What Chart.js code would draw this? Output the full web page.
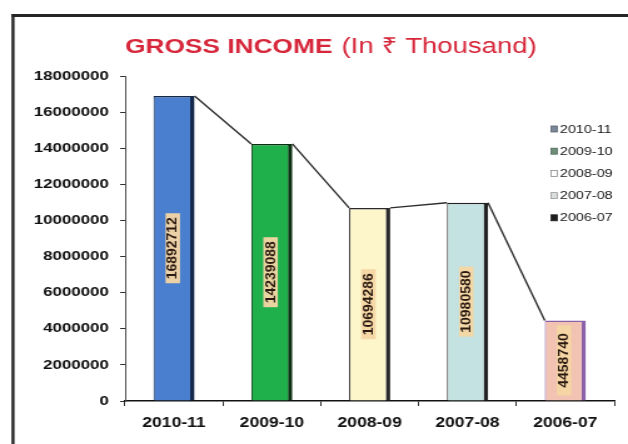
<!DOCTYPE html>
<html>
<head>
<meta charset="utf-8">
<script src="https://cdn.jsdelivr.net/npm/chart.js@4.4.1/dist/chart.umd.min.js"></script>
<style>
  html, body { margin: 0; padding: 0; background: #fff; overflow: hidden; }
  #wrap { position: absolute; left: 0; top: 0; width: 628px; height: 444px; overflow: hidden; background: #fff; }
  /* the chart is laid out on a narrower canvas and widened, giving the broad lettering */
  #c { position: absolute; left: 0; top: 0; transform-origin: 0 0; transform: scaleX(1.251); }
</style>
</head>
<body>
<div id="wrap"><canvas id="c" width="502" height="444"></canvas></div>
<script>
// Gross income by financial year (in ₹ thousand)
const categories = ['2010-11', '2009-10', '2008-09', '2007-08', '2006-07'];
const grossIncome = [16892712, 14239088, 10694286, 10980580, 4458740];
const yTickValues = [0, 2000000, 4000000, 6000000, 8000000, 10000000, 12000000, 14000000, 16000000, 18000000];

const barFill = ['#4a7fcf', '#1fb04c', '#fdf6cb', '#c3e2e1', '#f2c3b3'];
const barEdge = ['#14284a', '#08300f', '#2a2a2a', '#222222', '#8b62a9'];
const legendSwatch = ['#7c8897', '#6e8e79', '#ffffff', '#d9dddc', '#1e1e1e'];
const legendSwatchEdge = ['#5a6470', '#4e6a58', '#8a8a8a', '#9a9a9a', '#1e1e1e'];

const titleBold = 'GROSS INCOME';
const titleRest = '(In ₹ Thousand)';
const FONT = "'Liberation Sans', Arial, Helvetica, sans-serif";

// outer frame (top and left rules)
const framePlugin = {
  id: 'frame',
  beforeDraw(chart) {
    const ctx = chart.ctx;
    ctx.save();
    ctx.fillStyle = '#fff';
    ctx.fillRect(0, 0, chart.width, chart.height);
    ctx.strokeStyle = '#262626';
    ctx.lineWidth = 3;
    ctx.beginPath();
    ctx.moveTo(9.2, 15.5);
    ctx.lineTo(chart.width, 15.5);
    ctx.stroke();
    ctx.lineWidth = 2.4;
    ctx.beginPath();
    ctx.moveTo(10.4, 14);
    ctx.lineTo(10.4, chart.height);
    ctx.stroke();
    ctx.restore();
  }
};

// two-weight heading
const headingPlugin = {
  id: 'heading',
  afterDraw(chart) {
    const ctx = chart.ctx;
    ctx.save();
    ctx.fillStyle = '#d6273b';
    ctx.textBaseline = 'alphabetic';
    ctx.textAlign = 'left';
    ctx.font = 'bold 21px ' + FONT;
    ctx.fillText(titleBold, 100, 53);
    ctx.font = '22px ' + FONT;
    ctx.fillText(titleRest, 273, 53);
    ctx.restore();
  }
};

// series lines joining the tops of neighbouring bars
const seriesLinePlugin = {
  id: 'seriesLines',
  afterDatasetsDraw(chart) {
    const bars = chart.getDatasetMeta(0).data;
    const ctx = chart.ctx;
    ctx.save();
    ctx.strokeStyle = '#2e2e2e';
    ctx.lineWidth = 1.4;
    ctx.beginPath();
    for (let i = 0; i < bars.length - 1; i++) {
      const a = bars[i], b = bars[i + 1];
      ctx.moveTo(a.x + a.width / 2, a.y);
      ctx.lineTo(b.x - b.width / 2, b.y);
    }
    ctx.stroke();
    ctx.restore();
  }
};

// rotated value labels in the middle of each bar
const valueLabelPlugin = {
  id: 'valueLabels',
  afterDatasetsDraw(chart) {
    const bars = chart.getDatasetMeta(0).data;
    const values = chart.data.datasets[0].data;
    const ctx = chart.ctx;
    bars.forEach((bar, i) => {
      const cy = (bar.y + bar.base) / 2;
      ctx.save();
      ctx.translate(bar.x - 1, cy);
      ctx.rotate(-Math.PI / 2);
      ctx.fillStyle = 'rgba(246, 214, 163, 0.95)';
      ctx.fillRect(-35, -5.8, 70, 11.6);
      ctx.scale(1.33, 1);
      ctx.fillStyle = '#2a1a12';
      ctx.font = 'bold 10.5px ' + FONT;
      ctx.textAlign = 'center';
      ctx.textBaseline = 'middle';
      ctx.fillText(String(values[i]), 0, 0.5);
      ctx.restore();
    });
  }
};

// legend, one entry per year, inside the plot at the upper right
const legendPlugin = {
  id: 'yearLegend',
  afterDraw(chart) {
    const ctx = chart.ctx;
    ctx.save();
    ctx.font = '11.5px ' + FONT;
    ctx.textBaseline = 'middle';
    ctx.textAlign = 'left';
    categories.forEach((label, i) => {
      const y = 129 + i * 22.2;
      ctx.fillStyle = legendSwatch[i];
      ctx.fillRect(440.5, y - 3, 5, 6);
      ctx.strokeStyle = legendSwatchEdge[i];
      ctx.lineWidth = 0.8;
      ctx.strokeRect(440.5, y - 3, 5, 6);
      ctx.fillStyle = '#151515';
      ctx.fillText(label, 447.5, y + 0.5);
    });
    ctx.restore();
  }
};

new Chart(document.getElementById('c'), {
  type: 'bar',
  data: {
    labels: categories,
    datasets: [{
      data: grossIncome,
      backgroundColor: barFill,
      borderColor: barEdge,
      borderWidth: { left: 1, top: 1.5, right: 3.5, bottom: 0 },
      borderSkipped: 'start',
      barPercentage: 0.84,
      categoryPercentage: 0.5
    }]
  },
  plugins: [framePlugin, seriesLinePlugin, valueLabelPlugin, headingPlugin, legendPlugin],
  options: {
    responsive: false,
    animation: false,
    devicePixelRatio: 1,
    layout: { padding: { top: 76, right: 11, left: 0, bottom: 0 } },
    plugins: {
      legend: { display: false },
      title: { display: false },
      tooltip: { enabled: false }
    },
    scales: {
      x: {
        offset: true,
        afterFit(scale) { scale.height = 43; },
        grid: {
          display: true,
          offset: true,
          drawOnChartArea: false,
          drawTicks: true,
          tickLength: 5,
          color: '#333'
        },
        border: { display: true, color: '#111', width: 1.5 },
        ticks: {
          color: '#111',
          padding: 9,
          font: { family: FONT, size: 14, weight: 'bold' }
        }
      },
      y: {
        min: 0,
        max: 18000000,
        afterBuildTicks(scale) { scale.ticks = yTickValues.map(v => ({ value: v })); },
        afterFit(scale) { scale.width = 100; },
        grid: {
          display: true,
          drawOnChartArea: false,
          drawTicks: true,
          tickLength: 4,
          color: '#333'
        },
        border: { display: true, color: '#555', width: 1 },
        ticks: {
          color: '#111',
          padding: 9,
          font: { family: FONT, size: 13.5, weight: 'bold' },
          callback: v => String(v)
        }
      }
    }
  }
});
</script>
</body>
</html>
